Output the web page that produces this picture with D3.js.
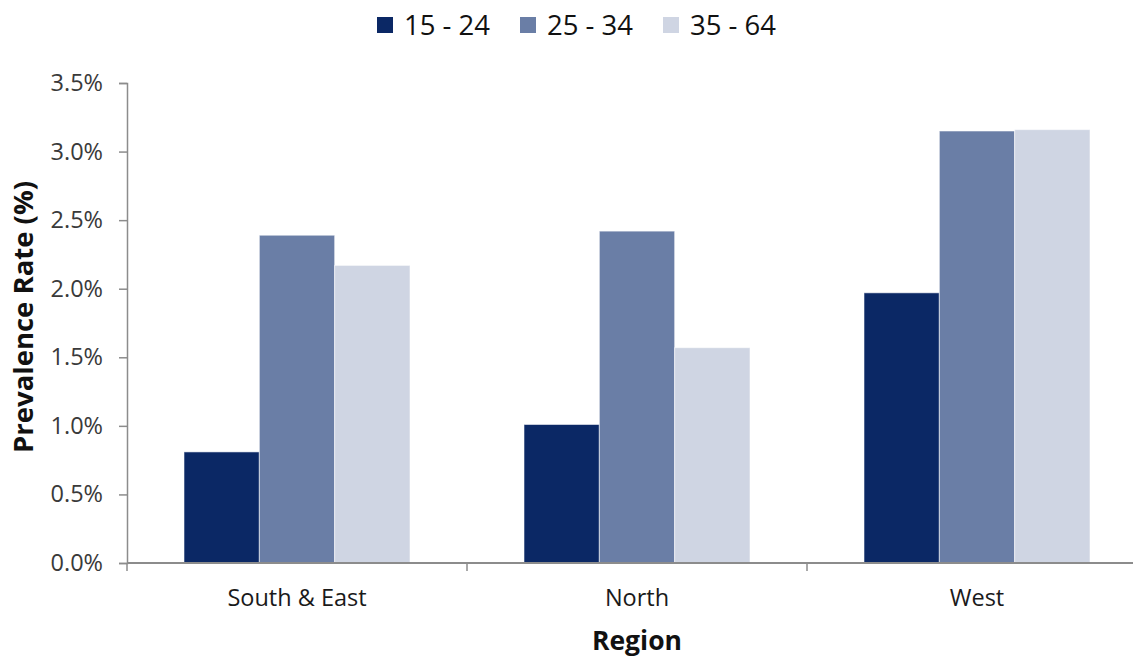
<!DOCTYPE html>
<html>
<head>
<meta charset="utf-8">
<script src="https://cdn.jsdelivr.net/npm/d3@7"></script>
<style>
  html, body { margin: 0; padding: 0; background: #ffffff; }
  svg { display: block; font-family: "Open Sans", "Noto Sans", sans-serif; }
</style>
</head>
<body>
<svg id="chart" width="1133" height="657"></svg>
<script>
// Prevalence rate by region and age group
const regions = ["South & East", "North", "West"];
const ageGroups = ["15 - 24", "25 - 34", "35 - 64"];
const rate15to24 = [0.81, 1.01, 1.97];
const rate25to34 = [2.39, 2.42, 3.15];
const rate35to64 = [2.17, 1.57, 3.16];
const yTicks = [0, 0.5, 1.0, 1.5, 2.0, 2.5, 3.0, 3.5];
const colors = ["#0b2865", "#6a7ea6", "#cfd5e3"];

const seriesValues = [rate15to24, rate25to34, rate35to64];
const rows = regions.map((r, i) => ({
  region: r,
  values: ageGroups.map((g, j) => ({ group: g, value: seriesValues[j][i] }))
}));

const svg = d3.select("#chart");
const margin = { left: 127, top: 83, right: -14, bottom: 94 };
const width = 1133 - margin.left - margin.right;
const height = 657 - margin.top - margin.bottom;

const g = svg.append("g").attr("transform", `translate(${margin.left},${margin.top})`);

const x0 = d3.scaleBand().domain(regions).range([0, width]).paddingInner(0).paddingOuter(0);
const x1 = d3.scaleBand().domain(ageGroups).range([57, x0.bandwidth() - 57]).padding(0);
const y = d3.scaleLinear().domain([0, 3.5]).range([height, 0]);

// bars
const groups = g.selectAll(".region")
  .data(rows)
  .join("g")
  .attr("class", "region")
  .attr("transform", d => `translate(${x0(d.region)},0)`);

groups.selectAll("rect")
  .data(d => d.values)
  .join("rect")
  .attr("x", d => x1(d.group))
  .attr("y", d => y(d.value))
  .attr("width", x1.bandwidth())
  .attr("height", d => height - y(d.value))
  .attr("fill", (d, i) => colors[i])
  .attr("stroke", "rgba(255,255,255,0.55)")
  .attr("stroke-width", 1);

// y axis
const yAxis = g.append("g")
  .call(d3.axisLeft(y).tickValues(yTicks).tickSize(8).tickPadding(16)
    .tickFormat(d => d.toFixed(1) + "%"));
yAxis.select(".domain").attr("stroke", "#8c8c8c").attr("stroke-width", 1.5);
yAxis.selectAll(".tick line").attr("stroke", "#8c8c8c").attr("stroke-width", 1.5);
yAxis.selectAll(".tick text").attr("fill", "#3a3a3a").style("font-size", "23.5px")
  .style("font-family", "'Open Sans', sans-serif");

// x axis with boundary ticks between categories
const xAxis = g.append("g").attr("transform", `translate(0,${height})`);
xAxis.append("line")
  .attr("x1", 0).attr("x2", width)
  .attr("y1", 0).attr("y2", 0)
  .attr("stroke", "#8c8c8c").attr("stroke-width", 2);
xAxis.selectAll(".bound")
  .data(regions)
  .join("line")
  .attr("x1", d => x0(d)).attr("x2", d => x0(d))
  .attr("y1", 0).attr("y2", 8)
  .attr("stroke", "#8c8c8c").attr("stroke-width", 1.5);
xAxis.selectAll(".lbl")
  .data(regions)
  .join("text")
  .attr("x", d => x0(d) + x0.bandwidth() / 2)
  .attr("y", 43)
  .attr("text-anchor", "middle")
  .attr("fill", "#1a1a1a")
  .style("font-size", "23.5px")
  .text(d => d);

// axis titles
svg.append("text")
  .attr("transform", `translate(33,317) rotate(-90)`)
  .attr("text-anchor", "middle")
  .style("font-size", "27.5px")
  .style("font-weight", "bold")
  .attr("fill", "#111")
  .text("Prevalence Rate (%)");

svg.append("text")
  .attr("x", 637).attr("y", 650)
  .attr("text-anchor", "middle")
  .style("font-size", "26.5px")
  .style("font-weight", "bold")
  .attr("fill", "#111")
  .text("Region");

// legend
const legendX = [377, 520, 663];
const legend = svg.append("g");
const item = legend.selectAll("g")
  .data(ageGroups)
  .join("g")
  .attr("transform", (d, i) => `translate(${legendX[i]},17)`);
item.append("rect")
  .attr("width", 16).attr("height", 16)
  .attr("fill", (d, i) => colors[i]);
item.append("text")
  .attr("x", 27).attr("y", 18)
  .style("font-size", "27.5px")
  .attr("fill", "#111")
  .text(d => d);
</script>
</body>
</html>
